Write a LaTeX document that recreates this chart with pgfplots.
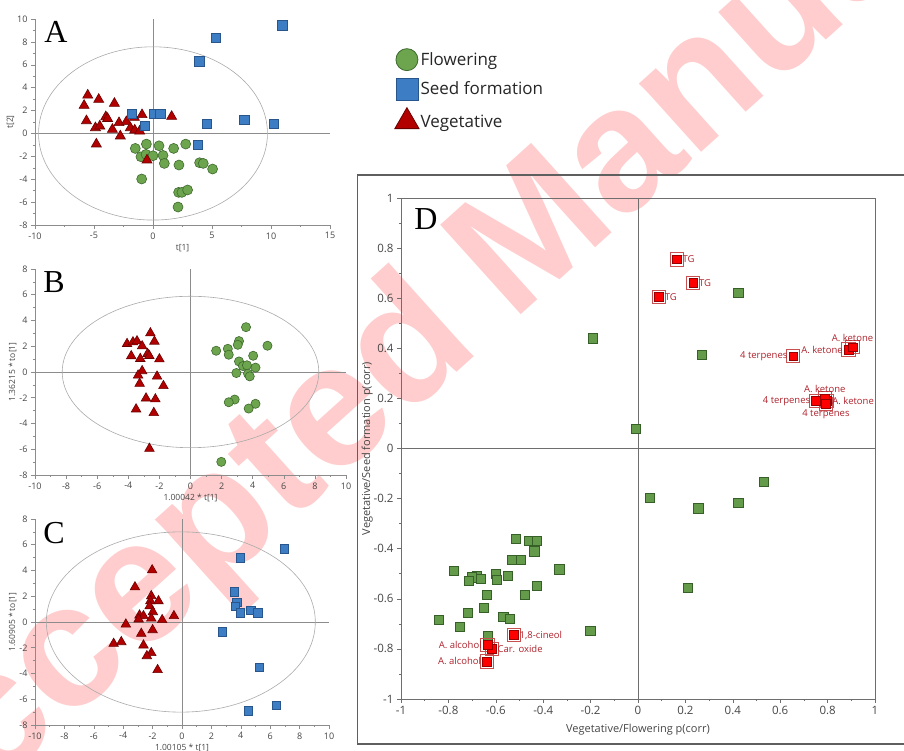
\documentclass[border=0pt]{standalone}
\usepackage{pgfplots}
\pgfplotsset{compat=1.18}
\usepackage{pgfplotstable}
\usepackage{fontspec}
\setmainfont{Open Sans}
\newfontfamily\letterfont{Liberation Serif}
\newfontfamily\wmfont{Liberation Sans}

\definecolor{flowfill}{RGB}{108,165,78}
\definecolor{flowdraw}{RGB}{62,105,45}
\definecolor{seedfill}{RGB}{60,125,195}
\definecolor{seeddraw}{RGB}{40,85,140}
\definecolor{vegfill}{RGB}{178,0,0}
\definecolor{vegdraw}{RGB}{105,0,0}
\definecolor{varfill}{RGB}{100,155,75}
\definecolor{vardraw}{RGB}{55,95,40}
\definecolor{hitfill}{RGB}{255,0,0}
\definecolor{hitdraw}{RGB}{150,0,0}
\definecolor{hitring}{RGB}{200,80,80}
\definecolor{hitlabel}{RGB}{175,35,45}
\definecolor{axisgray}{RGB}{140,140,140}
\definecolor{boxgray}{RGB}{110,110,110}
\definecolor{ticklab}{RGB}{70,70,70}
\definecolor{ellgray}{RGB}{170,170,170}
\definecolor{framegray}{RGB}{95,95,95}
\definecolor{wmpink}{RGB}{255,205,205}

% ---- score plot A: t[1] / t[2] ----
\pgfplotstableread{
x y
-1.50 -1.31
-0.56 -0.93
0.51 -1.08
1.75 -1.31
2.77 -0.93
-1.02 -2.04
-0.59 -1.83
0.00 -1.95
0.85 -1.92
0.96 -2.62
2.20 -2.76
3.95 -2.56
4.26 -2.62
5.05 -3.11
-0.96 -3.98
2.17 -5.15
2.45 -5.15
2.93 -4.94
2.12 -6.43
}\AflowTab
\pgfplotstableread{
x y
10.95 9.45
5.30 8.35
3.92 6.31
-1.83 1.72
0.11 1.74
0.62 1.74
-0.71 0.70
4.57 0.81
7.73 1.19
10.27 0.81
3.81 -0.96
}\AseedTab
\pgfplotstableread{
x y
-5.53 3.34
-4.60 2.97
-5.84 2.44
-3.27 2.62
-5.64 1.10
-4.00 1.45
-3.85 1.30
-1.58 1.40
-0.93 1.63
1.58 1.48
-4.88 0.49
-4.51 0.64
-2.88 0.93
-2.26 1.02
-1.92 0.49
-1.55 0.29
-1.13 0.20
-3.44 0.35
-2.77 -0.23
-4.80 -0.93
-0.51 -2.33
}\AvegTab

% ---- OPLS-DA B: vegetative vs flowering ----
\pgfplotstableread{
x y
-2.58 3.02
-4.08 2.19
-3.70 2.32
-3.44 2.40
-2.32 2.37
-3.11 2.01
-3.81 1.24
-3.23 1.03
-2.76 1.42
-2.65 1.26
-2.00 1.00
-3.11 0.08
-3.37 -0.26
-2.15 -0.34
-3.27 -0.90
-1.74 -1.08
-2.86 -2.04
-2.26 -2.11
-3.50 -2.89
-2.36 -3.17
-2.64 -5.95
}\BvegTab
\pgfplotstableread{
x y
3.57 3.48
3.12 2.40
3.04 2.11
2.40 1.80
1.65 1.65
2.46 1.34
4.95 2.04
4.03 1.26
3.12 0.82
3.37 0.46
3.63 0.52
4.18 0.34
2.95 -0.08
3.70 -0.13
3.81 -0.34
2.84 -2.14
2.46 -2.35
4.18 -2.47
3.74 -2.84
1.98 -6.98
}\BflowTab

% ---- OPLS-DA C: vegetative vs seed formation ----
\pgfplotstableread{
x y
6.94 5.69
3.95 4.99
3.57 2.33
3.73 1.55
3.64 1.24
3.95 0.72
4.68 0.90
5.16 0.72
2.75 -0.75
5.24 -3.54
6.40 -6.46
4.52 -6.90
}\CseedTab
\pgfplotstableread{
x y
-2.03 4.03
-3.20 2.71
-2.09 2.02
-1.60 1.63
-2.15 1.63
-2.20 1.24
-1.98 0.78
-2.89 0.52
-2.62 0.47
-2.95 0.21
-2.09 0.28
-1.35 0.16
-0.55 0.47
-3.82 -0.18
-2.00 -0.62
-2.77 -0.90
-4.65 -1.68
-4.13 -1.55
-2.62 -1.81
-2.09 -2.40
-2.39 -2.64
-1.66 -3.72
}\CvegTab

% ---- SUS plot D ----
\pgfplotstableread{
x y
-0.190 0.440
-0.008 0.080
0.268 0.373
0.423 0.623
0.049 -0.197
0.254 -0.239
0.423 -0.216
0.530 -0.134
0.209 -0.556
-0.517 -0.362
-0.462 -0.370
-0.426 -0.370
-0.438 -0.410
-0.530 -0.445
-0.495 -0.445
-0.332 -0.482
-0.778 -0.488
-0.680 -0.508
-0.700 -0.514
-0.714 -0.528
-0.662 -0.519
-0.600 -0.500
-0.596 -0.524
-0.551 -0.508
-0.427 -0.547
-0.476 -0.583
-0.638 -0.583
-0.649 -0.637
-0.717 -0.657
-0.568 -0.673
-0.540 -0.680
-0.839 -0.684
-0.753 -0.713
-0.201 -0.729
-0.635 -0.750
}\DvarTab
% highlighted variables, grouped by where their label sits
\pgfplotstableread{
x y lab
0.164 0.755 TG
0.233 0.660 TG
0.089 0.604 TG
0.796 0.190 {A. ketone}
-0.524 -0.745 {1,8-cineol}
-0.617 -0.800 {Car. oxide}
}\DhitWest
\pgfplotstableread{
x y lab
0.655 0.368 {4 terpenes}
0.888 0.395 {A. ketone}
0.751 0.190 {4 terpenes}
-0.635 -0.783 {A. alcohol}
-0.638 -0.850 {A. alcohol}
}\DhitEast
\pgfplotstableread{
x y lab
0.905 0.404 {A. ketone}
0.788 0.200 {A. ketone}
}\DhitSouth
\pgfplotstableread{
x y lab
0.793 0.177 {4 terpenes}
}\DhitNorth

\pgfplotsset{
  scoreplot/.style={
    scale only axis,
    anchor=south west,
    axis lines=left,
    axis line style={-, axisgray, line width=0.6pt},
    tick align=outside,
    tick style={axisgray, line width=0.5pt},
    major tick length=4pt,
    minor tick length=2pt,
    minor tick num=1,
    tick label style={font=\fontsize{9}{10}\selectfont, text=ticklab},
    label style={font=\fontsize{8.5}{10}\selectfont, text=ticklab},
    ylabel shift=-4pt,
    xlabel shift=-2pt,
    /pgf/number format/assume math mode=true,
    clip=false,
  },
  flow/.style={only marks, forget plot, mark=*, mark size=#1,
    mark options={fill=flowfill, draw=flowdraw, line width=0.6pt}},
  seed/.style={only marks, forget plot, mark=square*, mark size=#1,
    mark options={fill=seedfill, draw=seeddraw, line width=0.6pt}},
  veg/.style={only marks, forget plot, mark=triangle*, mark size=#1,
    mark options={fill=vegfill, draw=vegdraw, line width=0.6pt}},
  hitring/.style={only marks, mark=square, mark size=6.6pt,
    mark options={draw=hitring, line width=0.9pt}},
  hit/.style={only marks, mark=square*, mark size=4.4pt,
    mark options={fill=hitfill, draw=hitdraw, line width=0.6pt},
    point meta=explicit symbolic, nodes near coords,
    every node near coord/.append style={anchor=#1, inner sep=5.5pt,
      font=\fontsize{9.5}{11}\selectfont, text=hitlabel}},
}

\begin{document}
\begin{tikzpicture}[x=1pt,y=1pt]
\useasboundingbox (0pt,0pt) rectangle (904pt,751pt);

% watermark, behind everything
\node[rotate=42, anchor=base west, inner sep=0pt, text=wmpink,
  font=\wmfont\bfseries\fontsize{175}{175}\selectfont] at (512pt,428pt) {Manuscript};
\node[rotate=42, anchor=base east, inner sep=0pt, text=wmpink,
  font=\wmfont\bfseries\fontsize{175}{175}\selectfont] at (512pt,428pt) {Accepted\kern0.22em\relax};

% frame round panel D
\draw[line width=1.3pt, framegray] (357.5pt,7pt) rectangle (912pt,576pt);

% ---------------- A ----------------
\begin{axis}[scoreplot, at={(35pt,526pt)}, width=295pt, height=206pt,
  xmin=-10, xmax=15, ymin=-8, ymax=10,
  xtick={-10,-5,...,15}, ytick={-8,-6,...,10},
  xlabel={t[1]}, ylabel={t[2]},
  legend style={at={(axis description cs:1.219,0.857)}, anchor=north west,
    draw=none, fill=none, inner sep=0pt, row sep=7.5pt,
    font=\fontsize{17}{20}\selectfont, text=black!85,
    nodes={inner sep=1.5pt}},
  legend cell align=left,
  legend image code/.code={\draw[#1] plot coordinates {(0pt,0pt)};},
]
\addlegendimage{only marks, mark=*, mark size=11pt, mark options={fill=flowfill, draw=flowdraw, line width=0.8pt}}
\addlegendentry{Flowering}
\addlegendimage{only marks, mark=square*, mark size=11pt, mark options={fill=seedfill, draw=seeddraw, line width=0.8pt}}
\addlegendentry{Seed formation}
\addlegendimage{only marks, mark=triangle*, mark size=14pt, mark options={fill=vegfill, draw=vegdraw, line width=0.8pt}}
\addlegendentry{Vegetative}
\draw[axisgray, line width=0.6pt] (axis cs:0,-8) -- (axis cs:0,10);
\draw[axisgray, line width=0.6pt] (axis cs:-10,0) -- (axis cs:15,0);
\draw[ellgray, line width=0.6pt] (axis cs:0,0) ellipse [x radius=9.7, y radius=7.57];
\addplot[flow=5pt] table[x=x, y=y] {\AflowTab};
\addplot[veg=5.8pt] table[x=x, y=y] {\AvegTab};
\addplot[seed=4.6pt] table[x=x, y=y] {\AseedTab};
\end{axis}
\node[font=\letterfont\fontsize{32}{32}\selectfont] at (56pt,719pt) {A};

% ---------------- B ----------------
\begin{axis}[scoreplot, at={(35pt,276pt)}, width=311pt, height=206pt,
  xmin=-10, xmax=10, ymin=-8, ymax=8,
  xtick={-10,-8,...,10}, ytick={-8,-6,...,8},
  xlabel={1.00042 * t[1]}, ylabel={1.36215 * to[1]},
]
\draw[axisgray, line width=0.6pt] (axis cs:0,-8) -- (axis cs:0,8);
\draw[axisgray, line width=0.6pt] (axis cs:-10,0) -- (axis cs:10,0);
\draw[ellgray, line width=0.6pt] (axis cs:0,0) ellipse [x radius=8.25, y radius=5.88];
\addplot[veg=5.5pt] table[x=x, y=y] {\BvegTab};
\addplot[flow=4.6pt] table[x=x, y=y] {\BflowTab};
\end{axis}
\node[font=\letterfont\fontsize{32}{32}\selectfont] at (54pt,469pt) {B};

% ---------------- C ----------------
\begin{axis}[scoreplot, at={(35pt,26pt)}, width=294pt, height=206pt,
  xmin=-10, xmax=10, ymin=-8, ymax=8,
  xtick={-10,-8,...,10}, ytick={-8,-6,...,8},
  xlabel={1.00105 * t[1]}, ylabel={1.60905 * to[1]},
]
\draw[axisgray, line width=0.6pt] (axis cs:0,-8) -- (axis cs:0,8);
\draw[axisgray, line width=0.6pt] (axis cs:-10,0) -- (axis cs:10,0);
\draw[ellgray, line width=0.6pt] (axis cs:-0.08,0) ellipse [x radius=9.15, y radius=7.0];
\addplot[veg=5.5pt] table[x=x, y=y] {\CvegTab};
\addplot[seed=4.2pt] table[x=x, y=y] {\CseedTab};
\end{axis}
\node[font=\letterfont\fontsize{32}{32}\selectfont] at (54pt,218pt) {C};

% ---------------- D ----------------
\begin{axis}[scale only axis, anchor=south west, at={(401pt,52pt)}, width=474pt, height=501pt,
  xmin=-1, xmax=1, ymin=-1, ymax=1,
  xtick distance=0.2, ytick distance=0.2, minor tick num=1,
  xtick pos=bottom, ytick pos=left, tick align=outside,
  axis line style={boxgray, line width=0.6pt},
  tick style={boxgray, line width=0.5pt},
  major tick length=4pt, minor tick length=2pt,
  tick label style={font=\fontsize{11.5}{13}\selectfont, text=ticklab},
  label style={font=\fontsize{11}{13}\selectfont, text=ticklab},
  ylabel shift=-6pt,
  xlabel shift=2pt,
  /pgf/number format/assume math mode=true,
  xlabel={Vegetative/Flowering p(corr)},
  ylabel={Vegetative/Seed formation p(corr)},
  clip=false,
]
\draw[boxgray, line width=0.6pt] (axis cs:0,-1) -- (axis cs:0,1);
\draw[boxgray, line width=0.6pt] (axis cs:-1,0) -- (axis cs:1,0);
\addplot[only marks, mark=square*, mark size=4.6pt,
  mark options={fill=varfill, draw=vardraw, line width=0.6pt}]
  table[x=x, y=y] {\DvarTab};
\addplot[hitring] table[x=x, y=y] {\DhitWest};
\addplot[hitring] table[x=x, y=y] {\DhitEast};
\addplot[hitring] table[x=x, y=y] {\DhitSouth};
\addplot[hitring] table[x=x, y=y] {\DhitNorth};
\addplot[hit=west] table[x=x, y=y, meta=lab] {\DhitWest};
\addplot[hit=east] table[x=x, y=y, meta=lab] {\DhitEast};
\addplot[hit=south] table[x=x, y=y, meta=lab] {\DhitSouth};
\addplot[hit=north] table[x=x, y=y, meta=lab] {\DhitNorth};
\end{axis}
\node[font=\letterfont\fontsize{32}{32}\selectfont] at (426pt,532pt) {D};
\end{tikzpicture}
\end{document}
